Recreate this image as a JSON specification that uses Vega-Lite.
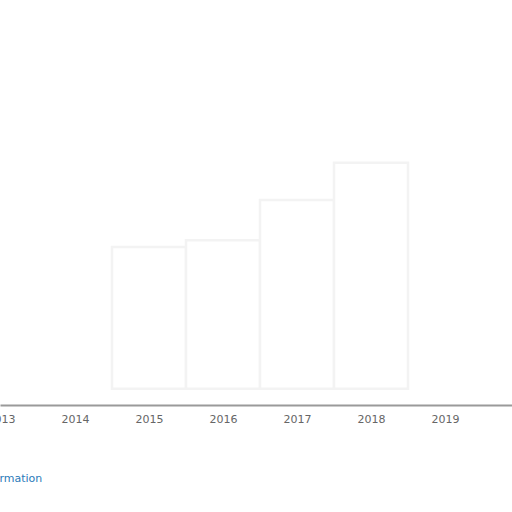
{
  "$schema": "https://vega.github.io/schema/vega-lite/v6.json",
  "width": 512,
  "height": 405,
  "autosize": {"type": "none"},
  "padding": {"top": 0, "left": 0, "right": 0, "bottom": 107},
  "background": "white",
  "config": {"view": {"stroke": null}},
  "title": {
    "text": "More information",
    "orient": "bottom",
    "anchor": "start",
    "frame": "group",
    "dx": -52,
    "offset": 49,
    "font": "DejaVu Sans",
    "fontSize": 11,
    "fontWeight": "normal",
    "color": "#2b7bb9"
  },
  "data": {
    "values": [
      {"year": 2015, "share": 39},
      {"year": 2016, "share": 40.7},
      {"year": 2017, "share": 50.6},
      {"year": 2018, "share": 59.8}
    ]
  },
  "transform": [
    {"calculate": "datum.year - 0.5", "as": "start"},
    {"calculate": "datum.year + 0.5", "as": "end"}
  ],
  "mark": {"type": "rect", "fill": "#ffffff", "stroke": "#f3f3f3", "strokeWidth": 2.5},
  "encoding": {
    "x": {
      "field": "start",
      "type": "quantitative",
      "scale": {"domain": [2012.9865, 2019.9055], "nice": false, "zero": false},
      "axis": {
        "title": null,
        "values": [2013, 2014, 2015, 2016, 2017, 2018, 2019],
        "format": "d",
        "grid": false,
        "ticks": false,
        "domainColor": "#9a9a9a",
        "domainWidth": 2,
        "labelColor": "#666666",
        "labelFont": "DejaVu Sans",
        "labelFontSize": 11,
        "labelPadding": 8,
        "labelOverlap": false,
        "labelFlush": false,
        "labelBound": false
      }
    },
    "x2": {"field": "end"},
    "y": {
      "field": "share",
      "type": "quantitative",
      "scale": {"domain": [0, 100]},
      "axis": null
    },
    "y2": {"datum": 4}
  }
}
